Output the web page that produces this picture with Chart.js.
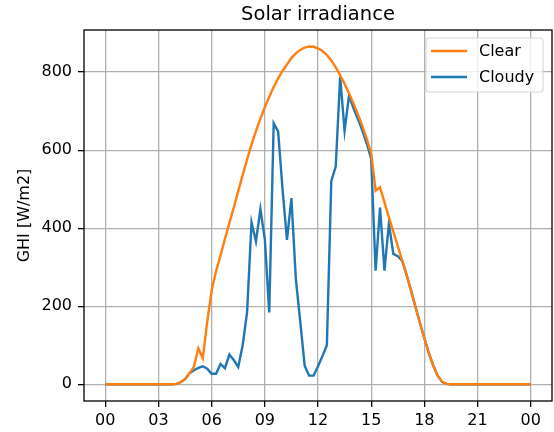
<!DOCTYPE html>
<html>
<head>
<meta charset="utf-8">
<title>Solar irradiance</title>
<script src="https://cdn.jsdelivr.net/npm/chart.js@4.4.0/dist/chart.umd.min.js"></script>
<style>
  html, body { margin: 0; padding: 0; background: #fff; }
  canvas { display: block; }
</style>
</head>
<body>
<canvas id="myChart" width="554" height="432"></canvas>
<script>
'use strict';

// one value every 15 minutes, 00:00 to 24:00
let hours = [];
for (let i = 0; i <= 96; i++) {
  hours.push(i / 4);
}

let clearSky = [
  0, 0, 0, 0, 0, 0, 0, 0, 0, 0, 0, 0, 0, 0, 0, 0,
  1, 5, 13, 28, 45, 92, 66, 160, 240, 290, 330, 373,
  413, 453, 495, 536, 576, 614, 649, 681, 710, 737, 762, 784,
  803, 820, 836, 848, 857, 863, 866, 865, 861, 854, 844, 830,
  812, 792, 770, 746, 720, 692, 662, 629, 592, 496, 505, 466,
  428, 391, 354, 317, 280, 240, 198, 157, 118, 80, 48, 22,
  6, 1, 0, 0, 0, 0, 0, 0, 0, 0, 0, 0, 0, 0, 0, 0, 0, 0, 0, 0, 0
];

let cloudy = [
  0, 0, 0, 0, 0, 0, 0, 0, 0, 0, 0, 0, 0, 0, 0, 0,
  1, 5, 13, 28, 36, 42, 46, 40, 27, 27, 52, 41,
  76, 62, 44, 100, 185, 415, 366, 449, 372, 184, 669, 648,
  500, 370, 477, 270, 160, 47, 22, 22, 46, 72, 100, 521,
  558, 788, 650, 740, 708, 680, 650, 617, 578, 291, 453, 291,
  412, 334, 328, 316, 280, 240, 198, 157, 118, 80, 48, 22,
  6, 1, 0, 0, 0, 0, 0, 0, 0, 0, 0, 0, 0, 0, 0, 0, 0, 0, 0, 0, 0
];

let seriesNames = ['Clear', 'Cloudy'];
let seriesColors = ['#ff7f0e', '#1f77b4'];

let xTicks = [0, 3, 6, 9, 12, 15, 18, 21, 24];
let xTickLabels = ['00', '03', '06', '09', '12', '15', '18', '21', '00'];
let yTicks = [0, 200, 400, 600, 800];

const font = 'DejaVu Sans';

function toPoints(values) {
  return hours.map((h, i) => ({ x: h, y: values[i] }));
}

// frame, title and legend drawn like matplotlib does
const decorations = {
  id: 'decorations',
  afterDatasetsDraw(chart) {
    let ctx = chart.ctx;
    let area = chart.chartArea;
    ctx.save();
    ctx.strokeStyle = '#000';
    ctx.lineWidth = 1.3;
    ctx.strokeRect(area.left, area.top, area.right - area.left, area.bottom - area.top);

    // title
    ctx.fillStyle = '#000';
    ctx.font = '19.5px "' + font + '"';
    ctx.textAlign = 'center';
    ctx.textBaseline = 'alphabetic';
    ctx.fillText('Solar irradiance', (area.left + area.right) / 2, 20);

    // legend
    let lx = 426, ly = 38, lw = 117, lh = 54;
    ctx.beginPath();
    ctx.roundRect(lx, ly, lw, lh, 3);
    ctx.fillStyle = 'rgba(255,255,255,0.8)';
    ctx.fill();
    ctx.strokeStyle = 'rgba(204,204,204,0.8)';
    ctx.lineWidth = 1.1;
    ctx.stroke();
    ctx.font = '16px "' + font + '"';
    ctx.textAlign = 'left';
    ctx.textBaseline = 'middle';
    for (let i = 0; i < seriesNames.length; i++) {
      let y = ly + 13 + i * 26;
      ctx.strokeStyle = seriesColors[i];
      ctx.lineWidth = 2.4;
      ctx.beginPath();
      ctx.moveTo(lx + 5, y);
      ctx.lineTo(lx + 41, y);
      ctx.stroke();
      ctx.fillStyle = '#000';
      ctx.fillText(seriesNames[i], lx + 53, y + 1);
    }
    ctx.restore();
  }
};

const data = {
  datasets: [
    {
      label: seriesNames[0],
      data: toPoints(clearSky),
      borderColor: seriesColors[0],
      borderWidth: 2.4,
      pointRadius: 0,
      tension: 0
    },
    {
      label: seriesNames[1],
      data: toPoints(cloudy),
      borderColor: seriesColors[1],
      borderWidth: 2.4,
      pointRadius: 0,
      tension: 0
    }
  ]
};

const config = {
  type: 'line',
  data: data,
  options: {
    responsive: false,
    animation: false,
    devicePixelRatio: 1,
    layout: {
      padding: { top: 30, right: 2, bottom: 0, left: 0 }
    },
    plugins: {
      legend: { display: false },
      title: { display: false },
      tooltip: { enabled: false }
    },
    scales: {
      x: {
        type: 'linear',
        min: -1.2,
        max: 25.2,
        afterBuildTicks: (axis) => {
          axis.ticks = xTicks.map(v => ({ value: v }));
        },
        afterFit: (axis) => {
          axis.height = 31;
        },
        ticks: {
          color: '#000',
          font: { family: font, size: 16 },
          padding: 4,
          maxRotation: 0,
          callback: (value, index) => xTickLabels[index]
        },
        grid: {
          color: '#b0b0b0',
          lineWidth: 1.3,
          drawTicks: true,
          tickLength: 6,
          tickColor: '#000',
          tickWidth: 1.3
        },
        border: { display: false }
      },
      y: {
        min: -43,
        max: 908,
        afterBuildTicks: (axis) => {
          axis.ticks = yTicks.map(v => ({ value: v }));
        },
        afterFit: (axis) => {
          axis.width = 84;
        },
        title: {
          display: true,
          text: 'GHI [W/m2]',
          color: '#000',
          font: { family: font, size: 16 },
          padding: { top: 15, bottom: 0 }
        },
        ticks: {
          color: '#000',
          font: { family: font, size: 16 },
          padding: 6
        },
        grid: {
          color: '#b0b0b0',
          lineWidth: 1.3,
          drawTicks: true,
          tickLength: 6,
          tickColor: '#000',
          tickWidth: 1.3
        },
        border: { display: false }
      }
    }
  },
  plugins: [decorations]
};

const myChart = new Chart(
  document.getElementById('myChart'),
  config
);
</script>
</body>
</html>
